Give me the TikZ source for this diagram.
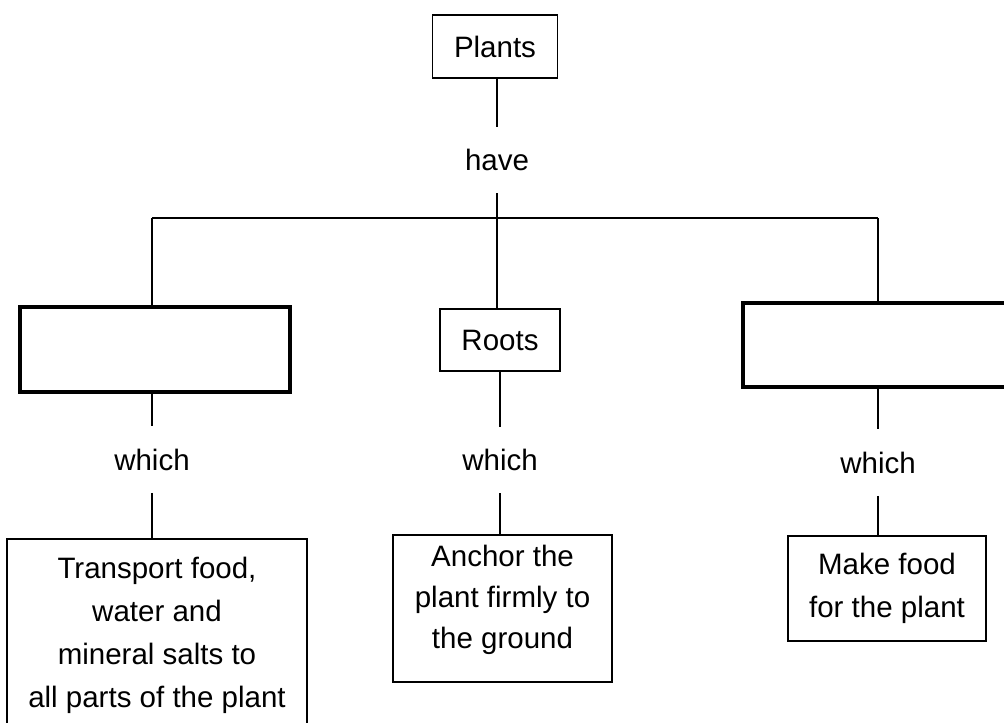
\documentclass[tikz,border=0pt]{standalone}
\usepackage{fontspec}
\setmainfont{Liberation Sans}
\begin{document}
\begin{tikzpicture}[x=0.5pt,y=-0.5pt,
  every node/.style={font=\fontsize{14.75}{21.5}\selectfont},
  thinbox/.style={draw, line width=0.9pt, inner sep=0pt, align=center},
  thickbox/.style={draw, line width=1.8pt, inner sep=0pt},
  linkword/.style={inner sep=0pt, minimum height=33pt},
  conn/.style={line width=0.9pt}]
\useasboundingbox (0,0) rectangle (1004,722);
\clip (0,0) rectangle (1004,722);
\node[thinbox, minimum width=62.5pt, minimum height=31.5pt] (plants) at (495,46.5) {Plants};
\node[linkword] (have) at (497,160) {have};
\coordinate (jL) at (152,218);
\coordinate (jR) at (878,218);
\node[thickbox, minimum width=135pt, minimum height=42.5pt] (stemL) at (155,349.5) {};
\node[thinbox, minimum width=60pt, minimum height=31pt] (roots) at (500,340) {Roots};
\node[thickbox, minimum width=136pt, minimum height=42pt] (leafR) at (879,345) {};
\node[linkword] (w1) at (152,459.5) {which};
\node[linkword] (w2) at (500,460) {which};
\node[linkword] (w3) at (878,462.5) {which};
\node[thinbox, minimum width=150pt, minimum height=96pt] (t1) at (157,635) {Transport food,\\water and\\mineral salts to\\all parts of the plant};
\node[thinbox, minimum width=109.5pt, minimum height=73.5pt,
  label={[align=center, inner sep=0pt, font=\fontsize{14.75}{20.5}\selectfont, yshift=4.5pt]center:{Anchor the\\plant firmly to\\the ground}}] (t2) at (502.5,608.5) {};
\node[thinbox, minimum width=99pt, minimum height=52.5pt] (t3) at (887,588.5) {Make food\\for the plant};
\draw[conn] (plants.south -| have) -- (have.north);
\draw[conn] (have.south) -- (have.south |- roots.north);
\draw[conn] (jL) -- (jR);
\draw[conn] (jL) -- (jL |- stemL.north);
\draw[conn] (jR) -- (jR |- leafR.north);
\draw[conn] (w1 |- stemL.south) -- (w1);
\draw[conn] (w1) -- (w1 |- t1.north);
\draw[conn] (roots) -- (w2);
\draw[conn] (w2.south) -- (w2.south |- t2.north);
\draw[conn] (w3 |- leafR.south) -- (w3);
\draw[conn] (w3) -- (w3 |- t3.north);
\end{tikzpicture}
\end{document}
